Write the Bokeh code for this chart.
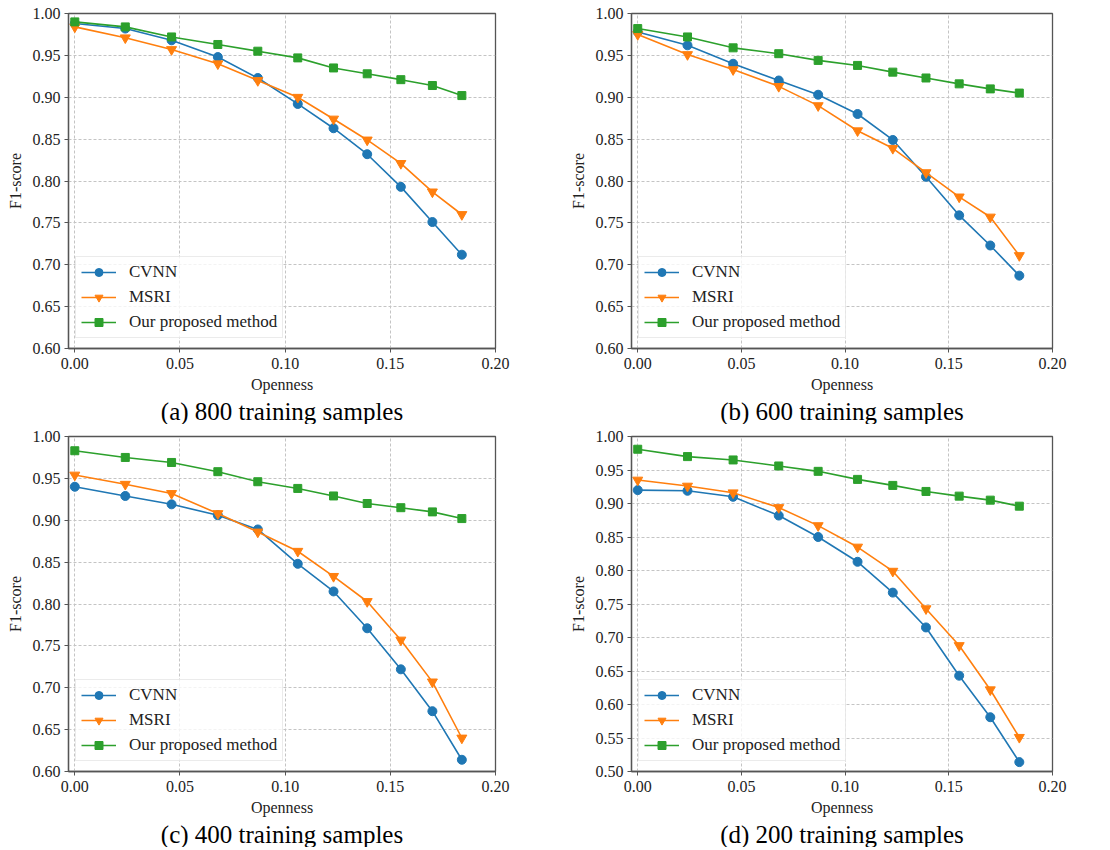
from bokeh.plotting import figure
from bokeh.layouts import column, row
from bokeh.models import FixedTicker, NumeralTickFormatter, Title, Range1d
from bokeh.embed import file_html
from bokeh.resources import INLINE

# ---- data ----
openness = [0.0, 0.024, 0.046, 0.068, 0.087, 0.106, 0.123, 0.139, 0.155, 0.170, 0.184]
series_names = ["CVNN", "MSRI", "Our proposed method"]

a_cvnn = [0.988, 0.982, 0.968, 0.948, 0.923, 0.892, 0.863, 0.832, 0.793, 0.751, 0.712]
a_msri = [0.984, 0.971, 0.957, 0.940, 0.920, 0.900, 0.874, 0.849, 0.821, 0.787, 0.760]
a_ours = [0.990, 0.984, 0.972, 0.963, 0.955, 0.947, 0.935, 0.928, 0.921, 0.914, 0.902]

b_cvnn = [0.978, 0.962, 0.940, 0.920, 0.903, 0.880, 0.849, 0.805, 0.759, 0.723, 0.687]
b_msri = [0.975, 0.951, 0.933, 0.913, 0.890, 0.860, 0.839, 0.810, 0.781, 0.757, 0.711]
b_ours = [0.982, 0.972, 0.959, 0.952, 0.944, 0.938, 0.930, 0.923, 0.916, 0.910, 0.905]

c_cvnn = [0.940, 0.929, 0.919, 0.906, 0.889, 0.848, 0.815, 0.771, 0.722, 0.672, 0.614]
c_msri = [0.954, 0.943, 0.932, 0.908, 0.886, 0.863, 0.833, 0.803, 0.757, 0.707, 0.640]
c_ours = [0.983, 0.975, 0.969, 0.958, 0.946, 0.938, 0.929, 0.920, 0.915, 0.910, 0.902]

d_cvnn = [0.920, 0.919, 0.910, 0.882, 0.850, 0.813, 0.767, 0.715, 0.643, 0.581, 0.514]
d_msri = [0.935, 0.926, 0.916, 0.894, 0.867, 0.835, 0.799, 0.743, 0.688, 0.622, 0.551]
d_ours = [0.981, 0.970, 0.965, 0.956, 0.948, 0.936, 0.927, 0.918, 0.911, 0.905, 0.896]

captions = ["(a) 800 training samples", "(b) 600 training samples",
            "(c) 400 training samples", "(d) 200 training samples"]

x_ticks = [0.0, 0.05, 0.10, 0.15, 0.20]
y_ticks_06 = [0.60, 0.65, 0.70, 0.75, 0.80, 0.85, 0.90, 0.95, 1.00]
y_ticks_05 = [0.50, 0.55, 0.60, 0.65, 0.70, 0.75, 0.80, 0.85, 0.90, 0.95, 1.00]

# ---- style ----
FONT = "Liberation Serif"
COLORS = ["#1f77b4", "#ff7f0e", "#2ca02c"]
MARKERS = ["circle", "inverted_triangle", "square"]
MSIZES = [9, 10, 8]


def make_panel(caption, data, y_ticks, left_col, top_row):
    if left_col:
        mbl, fw, mbr = 68, 427, 45
    else:
        mbl, fw, mbr = 91, 421, 25
    mbt = 13 if top_row else 12
    p = figure(frame_width=fw, frame_height=335,
               x_range=Range1d(-0.003, 0.2),
               y_range=Range1d(y_ticks[0], y_ticks[-1]),
               output_backend="svg", toolbar_location=None,
               min_border_left=mbl, min_border_right=mbr,
               min_border_top=mbt, min_border_bottom=72,
               background_fill_color="white", border_fill_color="white")
    p.outline_line_color = "#555555"
    p.outline_line_width = 1.3

    for ax in (p.xaxis[0], p.yaxis[0]):
        ax.axis_line_color = "#555555"
        ax.axis_line_width = 1.3
        ax.major_tick_line_color = "#555555"
        ax.major_tick_in = 0
        ax.major_tick_out = 4
        ax.minor_tick_line_color = None
        ax.major_label_text_font = FONT
        ax.major_label_text_font_size = "16px"
        ax.major_label_text_color = "#222222"
        ax.axis_label_text_font = FONT
        ax.axis_label_text_font_size = "16px"
        ax.axis_label_text_font_style = "normal"
        ax.axis_label_text_color = "#222222"
        ax.formatter = NumeralTickFormatter(format="0.00")

    p.xaxis[0].ticker = FixedTicker(ticks=x_ticks)
    p.yaxis[0].ticker = FixedTicker(ticks=y_ticks)
    p.xaxis[0].axis_label = "Openness"
    p.yaxis[0].axis_label = "F1-score"
    p.xaxis[0].major_label_standoff = 5
    p.xaxis[0].axis_label_standoff = 4
    p.yaxis[0].major_label_standoff = 4
    p.yaxis[0].axis_label_standoff = 6

    p.xgrid[0].ticker = FixedTicker(ticks=x_ticks)
    p.ygrid[0].ticker = FixedTicker(ticks=y_ticks)
    for g in (p.xgrid[0], p.ygrid[0]):
        g.grid_line_color = "#c4c4c4"
        g.grid_line_dash = "3 2"
        g.grid_line_width = 1

    for name, vals, col, mk, ms in zip(series_names, data, COLORS, MARKERS, MSIZES):
        p.line(openness, vals, color=col, line_width=1.6, legend_label=name)
        p.scatter(openness, vals, marker=mk, size=ms, color=col, legend_label=name)

    lg = p.legend[0]
    lg.location = (7, 10)
    lg.label_text_font = FONT
    lg.label_text_font_size = "17px"
    lg.label_text_color = "#222222"
    lg.glyph_width = 35
    lg.glyph_height = 20
    lg.label_height = 20
    lg.label_standoff = 13
    lg.spacing = 5
    lg.padding = 5
    lg.margin = 0
    lg.border_line_color = "#d8d8d8"
    lg.border_line_width = 1
    lg.background_fill_color = "white"
    lg.background_fill_alpha = 0.8

    t = Title(text=caption, align="center", text_font=FONT,
              text_font_size="25px", text_font_style="normal",
              text_color="black", standoff=0)
    p.add_layout(t, "below")
    return p


pa = make_panel(captions[0], [a_cvnn, a_msri, a_ours], y_ticks_06, True, True)
pb = make_panel(captions[1], [b_cvnn, b_msri, b_ours], y_ticks_06, False, True)
pc = make_panel(captions[2], [c_cvnn, c_msri, c_ours], y_ticks_06, True, False)
pd = make_panel(captions[3], [d_cvnn, d_msri, d_ours], y_ticks_05, False, False)

layout = column(row(pa, pb), row(pc, pd))

open("out.html", "w").write(file_html(layout, INLINE))
